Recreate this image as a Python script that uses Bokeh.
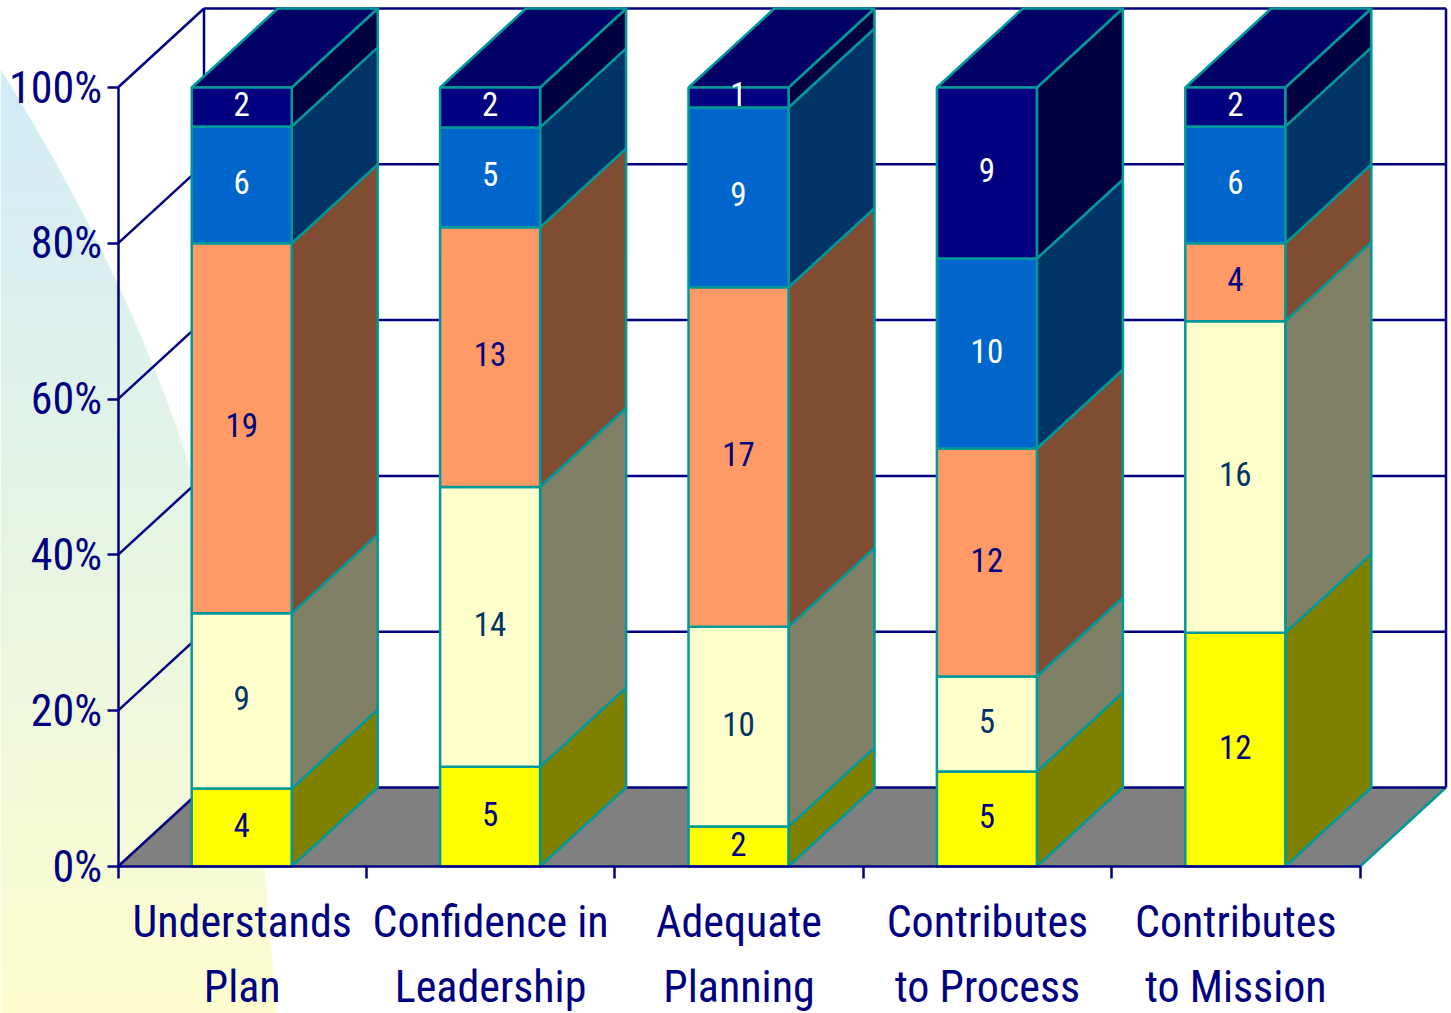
import numpy as np
from bokeh.core.properties import value
from bokeh.embed import file_html
from bokeh.models import FixedTicker, Range1d
from bokeh.plotting import figure
from bokeh.resources import INLINE

# Survey responses per question, stacked bottom to top
categories = ["Understands\nPlan", "Confidence in\nLeadership", "Adequate\nPlanning",
              "Contributes\nto Process", "Contributes\nto Mission"]
level_1 = [4, 5, 2, 5, 12]
level_2 = [9, 14, 10, 5, 16]
level_3 = [19, 13, 17, 12, 4]
level_4 = [6, 5, 9, 10, 6]
level_5 = [2, 2, 1, 9, 2]
percent_ticks = [0, 20, 40, 60, 80, 100]

series = [level_1, level_2, level_3, level_4, level_5]
front_colors = ["#FFFF00", "#FFFFCC", "#FF9966", "#0066CC", "#000080"]
side_colors = ["#808000", "#808066", "#804D33", "#003366", "#000040"]
label_colors = ["#000080", "#003366", "#000080", "#FFFFFF", "#FFFFFF"]
top_color = "#000066"
edge_color = "#009999"
axis_color = "#000080"
floor_color = "#808080"

WIDTH, HEIGHT = 1451, 1013
X0_PX, XSTEP_PX = 117.5, 248.4   # pixel position of the first category edge and the step
Y0_PX, YSTEP_PX = 866.0, 7.79    # pixel position of 0% and pixels per percent
DEPTH_X = 86.0 / XSTEP_PX        # 3D depth expressed in axis units
DEPTH_Y = 79.0 / YSTEP_PX
BAR_WIDTH = 100.0 / XSTEP_PX
FONT = "Roboto Condensed"
EDGE_WIDTH = 2.5
AXIS_WIDTH = 2.5


def x_of(px):
    return (px - X0_PX) / XSTEP_PX


def y_of(py):
    return (Y0_PX - py) / YSTEP_PX


p = figure(width=WIDTH, height=HEIGHT, output_backend="svg", toolbar_location=None,
           x_range=Range1d(x_of(0), x_of(WIDTH)), y_range=Range1d(y_of(HEIGHT), y_of(0)),
           min_border=0, outline_line_color=None, background_fill_color="white",
           border_fill_color="white")
p.grid.visible = False

# Soft blue-to-yellow backdrop bounded by a sweeping curve on the left
curve_y = np.array([67, 207, 280, 360, 477, 640, 870, 1013])
curve_x = np.array([0, 73, 120, 153, 190, 232, 265, 275])
rows = np.arange(HEIGHT)
cols = np.arange(280)
limit = np.polyval(np.polyfit(curve_y, curve_x, 4), rows)
limit[rows < 67] = -1
t = np.clip((rows - 67) / (1013 - 67), 0, 1)[:, None]
top_rgb = np.array([209, 236, 248])
bottom_rgb = np.array([254, 254, 207])
rgb = (top_rgb * (1 - t) + bottom_rgb * t).astype(np.uint32)
alpha = np.clip(limit[:, None] - cols[None, :] + 0.5, 0, 1)
alpha = (alpha * 255).astype(np.uint32)
img = (alpha << 24) | (rgb[:, 2:3] << 16) | (rgb[:, 1:2] << 8) | rgb[:, 0:1]
p.image_rgba(image=[img[::-1].astype(np.uint32)], x=x_of(0), y=y_of(HEIGHT),
             dw=x_of(280) - x_of(0), dh=y_of(0) - y_of(HEIGHT))

n = len(categories)

# Floor, back wall and side wall
p.patch([0, n, n + DEPTH_X, DEPTH_X], [0, 0, DEPTH_Y, DEPTH_Y], fill_color=floor_color, line_color=None)
p.segment(x0=[n], y0=[0], x1=[n + DEPTH_X], y1=[DEPTH_Y], line_color=edge_color, line_width=EDGE_WIDTH)
p.segment(x0=[DEPTH_X] * len(percent_ticks), y0=[v + DEPTH_Y for v in percent_ticks],
          x1=[n + DEPTH_X] * len(percent_ticks), y1=[v + DEPTH_Y for v in percent_ticks],
          line_color=axis_color, line_width=AXIS_WIDTH)
p.segment(x0=[0] * len(percent_ticks), y0=percent_ticks,
          x1=[DEPTH_X] * len(percent_ticks), y1=[v + DEPTH_Y for v in percent_ticks],
          line_color=axis_color, line_width=AXIS_WIDTH)
p.segment(x0=[DEPTH_X, n + DEPTH_X], y0=[DEPTH_Y] * 2, x1=[DEPTH_X, n + DEPTH_X],
          y1=[100 + DEPTH_Y] * 2, line_color=axis_color, line_width=AXIS_WIDTH)

# Stacked bars with front, side and top faces
centers = [i + 0.5 - 0.002 for i in range(n)]
for i, cx in enumerate(centers):
    values = [s[i] for s in series]
    total = sum(values)
    edges = np.cumsum([0] + values) / total * 100
    left, right = cx - BAR_WIDTH / 2, cx + BAR_WIDTH / 2
    xs = [[right, right + DEPTH_X, right + DEPTH_X, right] for _ in values]
    ys = [[lo, lo + DEPTH_Y, hi + DEPTH_Y, hi] for lo, hi in zip(edges[:-1], edges[1:])]
    p.patches(xs, ys, fill_color=side_colors, line_color=edge_color, line_width=EDGE_WIDTH)
    p.patch([left, right, right + DEPTH_X, left + DEPTH_X],
            [100, 100, 100 + DEPTH_Y, 100 + DEPTH_Y],
            fill_color=top_color, line_color=edge_color, line_width=EDGE_WIDTH)
    p.vbar(x=[cx] * len(values), width=BAR_WIDTH, bottom=edges[:-1], top=edges[1:],
           fill_color=front_colors, line_color=edge_color, line_width=EDGE_WIDTH)
    p.text(x=[cx] * len(values), y=(edges[:-1] + edges[1:]) / 2,
           text=[str(v) for v in values], text_color=label_colors,
           text_font=value(FONT), text_font_size="33px",
           text_align="center", text_baseline="middle", y_offset=-3)

# Axes drawn on the front edge of the chart box
yaxis = p.yaxis[0]
yaxis.fixed_location = 0
yaxis.ticker = FixedTicker(ticks=percent_ticks)
yaxis.major_label_overrides = {v: f"{v}%" for v in percent_ticks}
yaxis.bounds = (0, 100)
yaxis.axis_line_color = axis_color
yaxis.axis_line_width = AXIS_WIDTH
yaxis.major_tick_line_color = axis_color
yaxis.major_tick_line_width = AXIS_WIDTH
yaxis.major_tick_in = 0
yaxis.major_tick_out = 11
yaxis.minor_tick_line_color = None
yaxis.major_label_standoff = 5
yaxis.major_label_text_color = axis_color
yaxis.major_label_text_font = FONT
yaxis.major_label_text_font_size = "44px"
yaxis.major_label_text_font_style = "normal"

xaxis = p.xaxis[0]
xaxis.fixed_location = 0
label_ticks = [i + 0.5 for i in range(n)]
xaxis.ticker = FixedTicker(ticks=label_ticks, minor_ticks=list(range(n + 1)))
xaxis.major_label_overrides = dict(zip(label_ticks, categories))
xaxis.bounds = (0, n)
xaxis.axis_line_color = axis_color
xaxis.axis_line_width = AXIS_WIDTH
xaxis.major_tick_line_color = None
xaxis.major_tick_in = 0
xaxis.major_tick_out = 0
xaxis.minor_tick_line_color = axis_color
xaxis.minor_tick_line_width = AXIS_WIDTH
xaxis.minor_tick_in = 0
xaxis.minor_tick_out = 12
xaxis.major_label_standoff = 17
xaxis.major_label_text_color = axis_color
xaxis.major_label_text_font = FONT
xaxis.major_label_text_font_size = "44px"
xaxis.major_label_text_font_style = "normal"
xaxis.major_label_text_line_height = 1.25
xaxis.major_label_orientation = "horizontal"

open("out.html", "w").write(file_html(p, INLINE))
